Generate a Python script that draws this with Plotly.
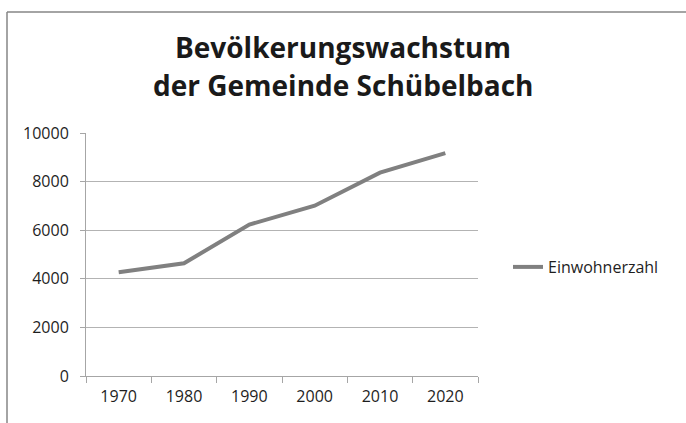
import plotly.graph_objects as go

years = ["1970", "1980", "1990", "2000", "2010", "2020"]
population = [4270, 4640, 6230, 7010, 8370, 9170]
series_name = "Einwohnerzahl"
title_lines = ["Bevölkerungswachstum", "der Gemeinde Schübelbach"]

W, H = 686, 423
L, R, T, B = 86, 208, 133, 47
pw, ph = W - L - R, H - T - B
FONT = "Open Sans"

def px_x(x):
    return (x - L) / pw

def px_y(y):
    return (H - B - y) / ph

fig = go.Figure()
fig.add_trace(go.Scatter(
    x=years, y=population, mode="lines", name=series_name,
    line=dict(color="#808080", width=4),
))

fig.update_layout(
    width=W, height=H,
    margin=dict(l=L, r=R, t=T, b=B),
    paper_bgcolor="white", plot_bgcolor="white",
    font=dict(family=FONT, size=16, color="#1e1e1e"),
    showlegend=True,
    legend=dict(x=px_x(508), y=px_y(267), xanchor="left", yanchor="middle",
                font=dict(size=16, color="#1e1e1e"), itemwidth=30,
                bgcolor="rgba(0,0,0,0)"),
    xaxis=dict(
        type="category", tickson="boundaries", ticks="outside", ticklen=6,
        tickcolor="#A6A6A6", showline=True, linecolor="#A6A6A6", linewidth=1,
        showgrid=False, tickfont=dict(size=16, color="#1e1e1e"),
        range=[-0.5, 5.5], ticklabelstandoff=6,
    ),
    yaxis=dict(
        range=[0, 10000], dtick=2000, ticks="outside", ticklen=5,
        tickcolor="#A6A6A6", showline=True, linecolor="#A6A6A6", linewidth=1,
        showgrid=True, gridcolor="#B3B3B3", gridwidth=1,
        zeroline=False, tickfont=dict(size=16, color="#1e1e1e"),
        tickformat="d", ticklabelstandoff=8,
    ),
)

for txt, yy in zip(title_lines, [47, 85]):
    fig.add_annotation(text=txt, xref="paper", yref="paper",
                       x=px_x(343), y=px_y(yy), xanchor="center", yanchor="middle",
                       showarrow=False,
                       font=dict(family=FONT, size=28, color="#1a1a1a", weight="bold"))

# chart frame (left and top edges)
fig.add_shape(type="line", xref="paper", yref="paper",
              x0=px_x(7), x1=px_x(7), y0=px_y(12), y1=px_y(430),
              line=dict(color="#868686", width=1.5))
fig.add_shape(type="line", xref="paper", yref="paper",
              x0=px_x(7), x1=px_x(700), y0=px_y(12), y1=px_y(12),
              line=dict(color="#868686", width=1.5))

fig.write_html("out.html", config={"displayModeBar": False},
               post_script="document.body.style.margin='0';")
